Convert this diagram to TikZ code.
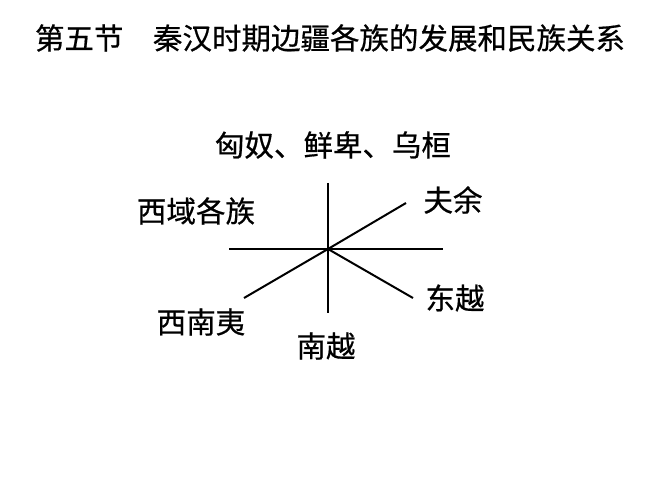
\documentclass[tikz,border=0pt]{standalone}
\usepackage{fontspec}
\newfontfamily\cjk[FakeBold=0.6]{Noto Sans CJK SC}
\tikzset{
lbl/.style={font=\cjk\fontsize{29.5}{31}\selectfont, inner sep=0pt},
spoke/.style={line width=2pt}
}
\begin{document}
\begin{tikzpicture}[x=1pt,y=-1pt]
\useasboundingbox (0,0) rectangle (667,500);
\node[lbl] (title) at (330,38) {第五节　秦汉时期边疆各族的发展和民族关系};
\node[lbl] (n) at (333,145) {匈奴、鲜卑、乌桓};
\node[lbl] (nw) at (196,211) {西域各族};
\node[lbl] (ne) at (453,200) {夫余};
\node[lbl] (se) at (455,298) {东越};
\node[lbl] (sw) at (201,322) {西南夷};
\node[lbl] (s) at (326,346) {南越};
\coordinate (c) at (328,249);
\coordinate (t) at (328,183);
\coordinate (b) at (328,313);
\coordinate (l) at (229,249);
\coordinate (r) at (443,249);
\coordinate (ur) at (406,203);
\coordinate (ll) at (244,298);
\coordinate (lr) at (413,298);
\draw[spoke] (t) -- (b);
\draw[spoke] (l) -- (r);
\draw[spoke] (ll) -- (c) -- (ur);
\draw[spoke] (c) -- (lr);
\end{tikzpicture}
\end{document}
